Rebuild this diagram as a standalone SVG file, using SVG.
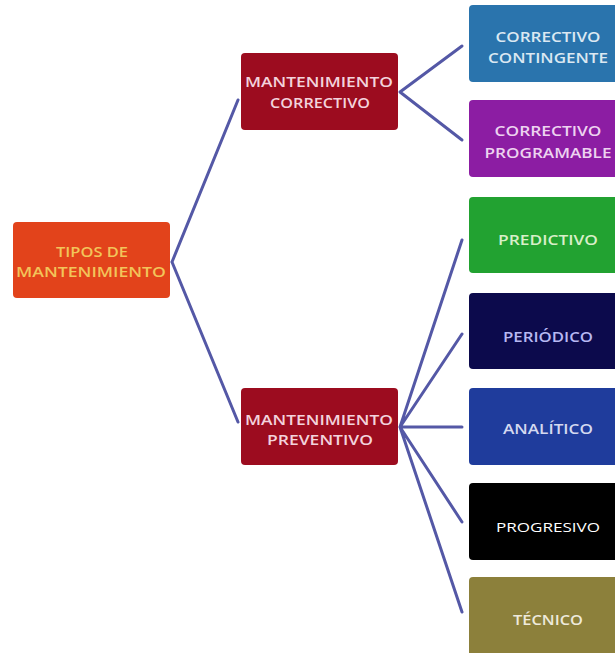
<svg xmlns="http://www.w3.org/2000/svg" width="615" height="653" viewBox="0 0 615 653">
  <style>
    .box { stroke: none; }
    .lbl { font-family: "Open Sans", "Liberation Sans", sans-serif; font-size: 15px; font-weight: 600; text-anchor: middle; }
    .thin { font-weight: 400; font-size: 13px; }
    .conn { stroke: #5458a6; stroke-width: 3; fill: none; stroke-linecap: round; }
  </style>
  <rect width="615" height="653" fill="#ffffff"/>

  <g id="connectors">
    <path class="conn" d="M172,262 L238,100 M172,262 L238,422"/>
    <path class="conn" d="M400,92 L462,46 M400,92 L462,140"/>
    <path class="conn" d="M400,427 L462,240 M400,427 L462,334 M400,427 L462,427 M400,427 L462,522 M400,427 L462,612"/>
  </g>

  <g id="tipos">
    <rect class="box" x="13" y="222" width="157" height="76" rx="4" fill="#e2431b"/>
    <text class="lbl" x="92" y="257" fill="#f2c45a" textLength="72" lengthAdjust="spacingAndGlyphs">TIPOS DE</text>
    <text class="lbl" x="91" y="277" fill="#f2c45a" textLength="150" lengthAdjust="spacingAndGlyphs">MANTENIMIENTO</text>
  </g>

  <g id="correctivo">
    <rect class="box" x="241" y="53" width="157" height="77" rx="4" fill="#9c0c1f"/>
    <text class="lbl" x="319" y="87" fill="#f3d3dc" textLength="148" lengthAdjust="spacingAndGlyphs">MANTENIMIENTO</text>
    <text class="lbl" x="320" y="108" fill="#f3d3dc" textLength="100" lengthAdjust="spacingAndGlyphs">CORRECTIVO</text>
  </g>

  <g id="preventivo">
    <rect class="box" x="241" y="388" width="157" height="77" rx="4" fill="#9c0c1f"/>
    <text class="lbl" x="319" y="425" fill="#f3d3dc" textLength="148" lengthAdjust="spacingAndGlyphs">MANTENIMIENTO</text>
    <text class="lbl" x="320" y="445" fill="#f3d3dc" textLength="106" lengthAdjust="spacingAndGlyphs">PREVENTIVO</text>
  </g>

  <g id="contingente">
    <rect class="box" x="469" y="5" width="157" height="77" rx="4" fill="#2a74ad"/>
    <text class="lbl" x="548" y="42" fill="#dbe8f2" textLength="105" lengthAdjust="spacingAndGlyphs">CORRECTIVO</text>
    <text class="lbl" x="548" y="63" fill="#dbe8f2" textLength="120" lengthAdjust="spacingAndGlyphs">CONTINGENTE</text>
  </g>

  <g id="programable">
    <rect class="box" x="469" y="100" width="157" height="77" rx="4" fill="#8c1da3"/>
    <text class="lbl" x="548" y="136" fill="#edd3f0" textLength="107" lengthAdjust="spacingAndGlyphs">CORRECTIVO</text>
    <text class="lbl" x="548" y="158" fill="#edd3f0" textLength="127" lengthAdjust="spacingAndGlyphs">PROGRAMABLE</text>
  </g>

  <g id="predictivo">
    <rect class="box" x="469" y="197" width="157" height="76" rx="4" fill="#22a231"/>
    <text class="lbl" x="548" y="245" fill="#d8efc8" textLength="100" lengthAdjust="spacingAndGlyphs">PREDICTIVO</text>
  </g>

  <g id="periodico">
    <rect class="box" x="469" y="293" width="157" height="76" rx="4" fill="#0c0a4c"/>
    <text class="lbl" x="548" y="342" fill="#b7b8f2" textLength="90" lengthAdjust="spacingAndGlyphs">PERIÓDICO</text>
  </g>

  <g id="analitico">
    <rect class="box" x="469" y="388" width="157" height="77" rx="4" fill="#1f3c9c"/>
    <text class="lbl" x="548" y="434" fill="#d4d9f0" textLength="90" lengthAdjust="spacingAndGlyphs">ANALÍTICO</text>
  </g>

  <g id="progresivo">
    <rect class="box" x="469" y="483" width="157" height="77" rx="4" fill="#000000"/>
    <text class="lbl thin" x="548" y="532" fill="#ffffff" textLength="104" lengthAdjust="spacingAndGlyphs">PROGRESIVO</text>
  </g>

  <g id="tecnico">
    <rect class="box" x="469" y="577" width="157" height="80" rx="4" fill="#8c803b"/>
    <text class="lbl" x="548" y="625" fill="#eeeadb" textLength="70" lengthAdjust="spacingAndGlyphs">TÉCNICO</text>
  </g>
</svg>
